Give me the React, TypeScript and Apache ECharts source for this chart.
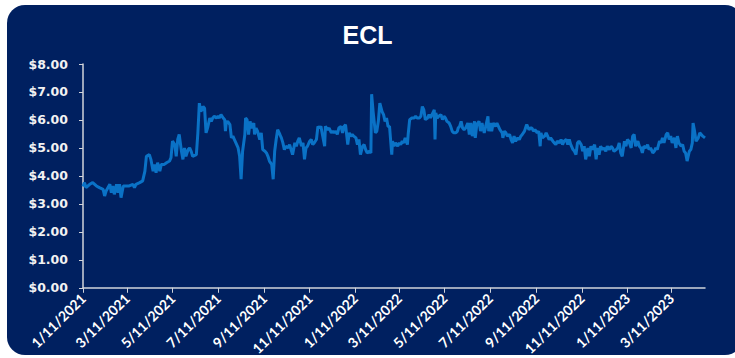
import React, { useEffect, useRef } from "react";
import * as echarts from "echarts";

const titleText = "ECL";

const tickDates = [
  "2021-01-11", "2021-03-11", "2021-05-11", "2021-07-11", "2021-09-11", "2021-11-11",
  "2022-01-11", "2022-03-11", "2022-05-11", "2022-07-11", "2022-09-11", "2022-11-11",
  "2023-01-11", "2023-03-11",
];

const axisStart = "2021-01-11";
const axisEnd = "2023-04-25";

const yTicks = [0, 1, 2, 3, 4, 5, 6, 7, 8];

const dates2021a = [
  "2021-01-11","2021-01-13","2021-01-15","2021-01-20","2021-01-24","2021-01-29","2021-02-02","2021-02-07","2021-02-09","2021-02-11",
  "2021-02-16","2021-02-18","2021-02-20","2021-02-22","2021-02-25","2021-02-27","2021-03-01","2021-03-03","2021-03-06","2021-03-10",
  "2021-03-14","2021-03-19","2021-03-21","2021-03-23","2021-03-28","2021-04-01","2021-04-04","2021-04-06","2021-04-10","2021-04-12",
  "2021-04-15","2021-04-17","2021-04-19","2021-04-21","2021-04-24","2021-04-26","2021-04-30","2021-05-03","2021-05-07","2021-05-09",
  "2021-05-11","2021-05-14","2021-05-16","2021-05-18","2021-05-20","2021-05-23","2021-05-25","2021-05-27","2021-05-29","2021-06-01",
  "2021-06-03","2021-06-05","2021-06-07","2021-06-12","2021-06-14","2021-06-16","2021-06-18","2021-06-21",
];
const values2021a = [
  3.62,3.76,3.58,3.70,3.76,3.64,3.58,3.52,3.28,3.46,
  3.70,3.40,3.64,3.34,3.70,3.40,3.70,3.22,3.64,3.64,
  3.64,3.70,3.58,3.70,3.76,3.82,4.17,4.70,4.76,4.59,
  4.17,4.41,4.11,4.47,4.17,4.41,4.41,4.47,4.53,4.65,
  5.24,5.12,4.70,5.30,5.48,4.88,4.59,5.00,4.70,4.94,
  5.00,4.88,4.70,4.76,5.53,6.60,6.30,6.48,
];

const dates2021b = [
  "2021-06-23","2021-06-25","2021-06-27","2021-06-30","2021-07-02","2021-07-04","2021-07-06","2021-07-09","2021-07-11","2021-07-13",
  "2021-07-15","2021-07-18","2021-07-20","2021-07-21","2021-07-22","2021-07-24","2021-07-27","2021-07-29","2021-07-31","2021-08-02",
  "2021-08-04","2021-08-07","2021-08-09","2021-08-11","2021-08-13","2021-08-16","2021-08-17","2021-08-19","2021-08-21","2021-08-23",
  "2021-08-25","2021-08-28","2021-08-29","2021-08-31","2021-09-02","2021-09-05","2021-09-07","2021-09-09","2021-09-12","2021-09-14",
  "2021-09-16","2021-09-18","2021-09-21","2021-09-23","2021-09-25","2021-09-27","2021-09-29","2021-10-02","2021-10-04","2021-10-06",
  "2021-10-08","2021-10-10","2021-10-13","2021-10-15","2021-10-17","2021-10-19","2021-10-22","2021-10-24","2021-10-26","2021-10-28",
  "2021-10-31","2021-11-02","2021-11-04","2021-11-06","2021-11-08","2021-11-11","2021-11-13","2021-11-15","2021-11-17","2021-11-20",
  "2021-11-22","2021-11-24","2021-11-26","2021-11-28","2021-12-01","2021-12-02","2021-12-05","2021-12-07","2021-12-10","2021-12-12",
  "2021-12-14",
];
const values2021b = [
  6.42,5.54,5.71,6.07,5.95,6.07,6.13,6.07,6.13,6.07,
  6.19,6.07,6.01,5.60,5.89,5.95,5.83,5.36,5.42,5.30,
  5.18,5.00,4.70,3.88,4.88,5.48,6.07,6.01,5.48,5.95,
  5.71,5.89,5.48,5.71,5.60,5.30,5.54,4.94,4.88,4.82,
  4.70,4.53,4.41,3.88,4.88,5.30,5.65,5.48,5.36,5.18,
  4.94,5.06,5.00,5.12,4.94,4.76,5.18,5.06,5.24,5.36,
  5.06,5.18,4.59,5.00,5.06,5.24,5.30,5.12,5.18,5.30,
  5.77,5.71,5.77,5.48,5.06,5.77,5.65,5.71,5.54,5.60,
  5.54,
];

const dates2022a = [
  "2021-12-16","2021-12-18","2021-12-20","2021-12-23","2021-12-25","2021-12-27","2021-12-29","2022-01-01","2022-01-03","2022-01-05",
  "2022-01-07","2022-01-09","2022-01-12","2022-01-14","2022-01-16","2022-01-18","2022-01-21","2022-01-23","2022-01-25","2022-01-27",
  "2022-01-30","2022-02-01","2022-02-02","2022-02-04","2022-02-07","2022-02-09","2022-02-11","2022-02-13","2022-02-16","2022-02-18",
  "2022-02-20","2022-02-22","2022-02-24","2022-02-26","2022-03-01","2022-03-02","2022-03-04","2022-03-06","2022-03-09","2022-03-11",
  "2022-03-13","2022-03-15","2022-03-17","2022-03-19","2022-03-22","2022-03-23","2022-03-25","2022-03-28","2022-03-31","2022-04-02",
  "2022-04-04","2022-04-07","2022-04-09","2022-04-11","2022-04-13","2022-04-15","2022-04-18","2022-04-20","2022-04-22","2022-04-24",
  "2022-04-27","2022-04-28","2022-04-29","2022-05-01","2022-05-03","2022-05-06","2022-05-08","2022-05-10","2022-05-12","2022-05-14",
  "2022-05-17","2022-05-19","2022-05-21","2022-05-23","2022-05-26","2022-05-28",
];
const values2022a = [
  5.60,5.48,5.71,5.77,5.54,5.77,5.83,5.12,5.54,5.42,
  5.48,5.42,5.36,5.12,5.30,4.76,5.06,5.12,4.94,4.82,
  4.88,4.82,6.92,6.30,5.54,5.60,5.95,6.60,6.30,6.19,
  5.95,6.07,5.77,5.77,4.76,5.24,5.06,5.18,5.06,5.18,
  5.12,5.24,5.18,5.36,5.12,5.48,6.01,6.07,6.07,6.13,
  6.07,6.07,6.13,6.48,6.36,6.01,6.07,6.19,6.07,6.19,
  6.36,5.30,6.25,6.07,6.13,6.19,6.01,6.13,6.07,5.95,
  5.89,5.77,5.60,5.54,5.54,5.60,
];

const dates2022b = [
  "2022-05-29","2022-05-31","2022-06-02","2022-06-04","2022-06-06","2022-06-08","2022-06-11","2022-06-13","2022-06-15","2022-06-17",
  "2022-06-20","2022-06-21","2022-06-23","2022-06-26","2022-06-28","2022-06-30","2022-07-01","2022-07-03","2022-07-05","2022-07-08",
  "2022-07-09","2022-07-11","2022-07-13","2022-07-15","2022-07-18","2022-07-20","2022-07-22","2022-07-24","2022-07-27","2022-07-28",
  "2022-07-30","2022-08-01","2022-08-03","2022-08-06","2022-08-08","2022-08-10","2022-08-12","2022-08-14","2022-08-17","2022-08-19",
  "2022-08-21","2022-08-23","2022-08-26","2022-08-28","2022-08-29","2022-09-01","2022-09-03","2022-09-05","2022-09-07","2022-09-09",
  "2022-09-12","2022-09-14","2022-09-16","2022-09-17","2022-09-19","2022-09-22","2022-09-24","2022-09-26","2022-09-28","2022-09-30",
  "2022-10-03","2022-10-05","2022-10-07","2022-10-09","2022-10-12","2022-10-14","2022-10-16","2022-10-18","2022-10-21","2022-10-23",
  "2022-10-25","2022-10-27","2022-10-30","2022-11-01","2022-11-03","2022-11-05",
];
const values2022b = [
  5.71,5.77,5.95,5.71,5.65,5.71,5.89,5.48,5.89,5.42,
  5.95,5.36,5.83,5.95,5.60,5.89,5.77,5.54,5.77,6.13,
  5.60,5.89,5.60,5.89,5.77,5.89,5.77,5.65,5.54,5.36,
  5.60,5.54,5.42,5.48,5.30,5.18,5.42,5.24,5.36,5.30,
  5.42,5.48,5.60,5.77,5.83,5.65,5.71,5.71,5.60,5.65,
  5.54,5.60,5.06,5.54,5.36,5.42,5.54,5.42,5.30,5.36,
  5.24,5.18,5.12,5.24,5.18,5.30,5.12,5.24,5.30,5.12,
  5.30,5.12,4.94,4.88,4.76,5.18,
];

const dates2023 = [
  "2022-11-07","2022-11-10","2022-11-12","2022-11-14","2022-11-16","2022-11-19","2022-11-21","2022-11-23","2022-11-25","2022-11-28",
  "2022-11-30","2022-12-02","2022-12-04","2022-12-06","2022-12-09","2022-12-11","2022-12-13","2022-12-15","2022-12-18","2022-12-20",
  "2022-12-22","2022-12-24","2022-12-27","2022-12-29","2022-12-31","2023-01-02","2023-01-04","2023-01-07","2023-01-09","2023-01-11",
  "2023-01-13","2023-01-16","2023-01-18","2023-01-20","2023-01-22","2023-01-25","2023-01-27","2023-01-29","2023-01-31","2023-02-02",
  "2023-02-05","2023-02-07","2023-02-09","2023-02-11","2023-02-14","2023-02-16","2023-02-18","2023-02-20","2023-02-23","2023-02-25",
  "2023-02-27","2023-03-01","2023-03-04","2023-03-06","2023-03-08","2023-03-10","2023-03-12","2023-03-15","2023-03-17","2023-03-19",
  "2023-03-21","2023-03-24","2023-03-26","2023-03-28","2023-03-30","2023-04-01","2023-04-04","2023-04-06","2023-04-08","2023-04-09",
  "2023-04-11","2023-04-13","2023-04-16","2023-04-18","2023-04-20","2023-04-22","2023-04-25",
];
const values2023 = [
  5.24,5.12,4.88,5.06,4.59,5.00,4.70,5.06,4.94,5.12,
  4.59,5.00,4.76,5.06,4.94,5.00,4.88,5.06,4.94,5.06,
  5.00,4.88,4.94,5.00,5.18,4.82,4.70,5.24,5.06,5.30,
  5.24,5.00,5.42,5.48,5.06,5.24,5.06,5.00,4.82,5.06,
  5.00,5.12,4.94,5.00,4.82,4.88,5.00,4.94,5.24,5.18,
  5.36,5.18,5.48,5.54,5.30,5.42,5.18,5.36,5.00,5.42,
  5.18,5.06,5.12,4.88,4.82,4.53,4.88,4.94,5.18,5.89,
  5.60,5.24,5.36,5.54,5.48,5.42,5.36,
];

const toTs = (s: string) => {
  const [y, m, d] = s.split("-").map(Number);
  return Date.UTC(y, m - 1, d);
};

const fmtDate = (v: number) => {
  const d = new Date(v);
  return `${d.getUTCMonth() + 1}/${d.getUTCDate()}/${d.getUTCFullYear()}`;
};

export default function App() {
  const ref = useRef<HTMLDivElement>(null);

  useEffect(() => {
    if (!ref.current) return;
    const chart = echarts.init(ref.current, undefined, { renderer: "svg" });
    const allDates = [...dates2021a, ...dates2021b, ...dates2022a, ...dates2022b, ...dates2023];
    const allValues = [...values2021a, ...values2021b, ...values2022a, ...values2022b, ...values2023];
    const seriesData = allDates.map((d, i) => [toTs(d), allValues[i]]);
    const tickTs = tickDates.map(toTs);
    const axisColor = "#D0D3DA";

    chart.setOption({
      animation: false,
      backgroundColor: "transparent",
      title: {
        text: titleText,
        left: "center",
        top: 17,
        textStyle: {
          color: "#FFFFFF",
          fontSize: 25,
          fontWeight: "bold",
          fontFamily: "Liberation Sans, Arial, sans-serif",
        },
      },
      grid: { left: 83, right: 30, top: 64, bottom: 69, containLabel: false },
      xAxis: {
        type: "value",
        min: toTs(axisStart),
        max: toTs(axisEnd),
        axisLine: { show: true, lineStyle: { color: axisColor, width: 1.5 } },
        axisTick: {
          show: true,
          customValues: tickTs,
          length: 5,
          lineStyle: { color: axisColor, width: 1 },
        },
        axisLabel: {
          show: true,
          customValues: tickTs,
          rotate: 45,
          margin: 8,
          color: "#FFFFFF",
          fontSize: 14,
          fontWeight: "bold",
          fontFamily: "Lato, sans-serif",
          formatter: (v: number) => fmtDate(v),
        },
        splitLine: { show: false },
      },
      yAxis: {
        type: "value",
        min: yTicks[0],
        max: yTicks[yTicks.length - 1],
        interval: 1,
        axisLine: { show: true, lineStyle: { color: axisColor, width: 1.5 } },
        axisTick: { show: true, length: 4, lineStyle: { color: axisColor } },
        axisLabel: {
          margin: 15,
          color: "#F2F2F2",
          fontSize: 12.5,
          fontWeight: "bold",
          fontFamily: "DejaVu Sans, Verdana, sans-serif",
          formatter: (v: number) => `$${v.toFixed(2)}`,
        },
        splitLine: { show: false },
      },
      series: [
        {
          type: "line",
          data: seriesData,
          showSymbol: false,
          lineStyle: { color: "#0A72C6", width: 3 },
          itemStyle: { color: "#0A72C6" },
        },
      ],
    });

    return () => chart.dispose();
  }, []);

  return (
    <div style={{ position: "fixed", left: 0, top: 0, width: 735, height: 358, background: "#FFFFFF" }}>
      <div
        style={{
          position: "absolute",
          left: 7,
          top: 5,
          width: 736,
          height: 350,
          borderRadius: 18,
          background: "#002060",
        }}
      />
      <div ref={ref} style={{ position: "absolute", left: 0, top: 0, width: 735, height: 358 }} />
    </div>
  );
}
